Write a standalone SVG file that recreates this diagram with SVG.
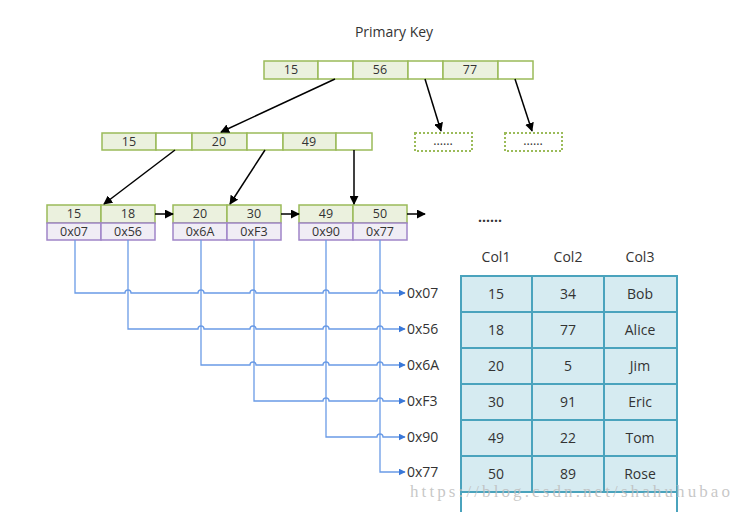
<svg xmlns="http://www.w3.org/2000/svg" width="740" height="512" viewBox="0 0 740 512">
<defs>
<style>
.t{font-family:"Open Sans","Noto Sans",sans-serif;font-size:12.5px;fill:#333;text-anchor:middle}
.h{font-family:"Open Sans","Noto Sans",sans-serif;font-size:14px;fill:#333}
.k{fill:#ebf1de;stroke:#9bbb59;stroke-width:1.5}
.e{fill:#fff;stroke:#9bbb59;stroke-width:1.5}
.a{fill:#f0edf5;stroke:#a085c8;stroke-width:1.5}
.d{fill:#fff;stroke:#9bbb59;stroke-width:2;stroke-dasharray:2 2}
.c{fill:#d6ebf1;stroke:#4aa3bd;stroke-width:2}
.p{fill:none;stroke:#000;stroke-width:1.5}
.b{fill:none;stroke:#6a9be6;stroke-width:1.3}
.tc{font-family:"Open Sans","Noto Sans",sans-serif;font-size:14px;fill:#333;text-anchor:middle}
</style>
<marker id="ah" viewBox="0 0 10 10" refX="9" refY="5" markerWidth="9" markerHeight="9" markerUnits="userSpaceOnUse" orient="auto"><path d="M0,0L10,5L0,10z" fill="#000"/></marker>
<marker id="bh" viewBox="0 0 10 10" refX="9" refY="5" markerWidth="7" markerHeight="7" markerUnits="userSpaceOnUse" orient="auto"><path d="M0,0L10,5L0,10z" fill="#3a78d8"/></marker>
</defs>
<rect width="740" height="512" fill="#fff"/>
<text class="h" x="394" y="37" text-anchor="middle">Primary Key</text>

<g id="root">
<rect class="k" x="264" y="61" width="54" height="18"/><rect class="e" x="318" y="61" width="35" height="18"/>
<rect class="k" x="353" y="61" width="55" height="18"/><rect class="e" x="408" y="61" width="35" height="18"/>
<rect class="k" x="443" y="61" width="55" height="18"/><rect class="e" x="498" y="61" width="35" height="18"/>
<text class="t" x="291" y="74">15</text><text class="t" x="380" y="74">56</text><text class="t" x="470" y="74">77</text>
</g>
<g id="mid">
<rect class="k" x="102" y="133" width="54" height="17"/><rect class="e" x="156" y="133" width="36" height="17"/>
<rect class="k" x="192" y="133" width="55" height="17"/><rect class="e" x="247" y="133" width="36" height="17"/>
<rect class="k" x="283" y="133" width="53" height="17"/><rect class="e" x="336" y="133" width="36" height="17"/>
<text class="t" x="129" y="146">15</text><text class="t" x="219" y="146">20</text><text class="t" x="309" y="146">49</text>
</g>
<g id="dot1"><rect class="d" x="415" y="133" width="57" height="18"/><text class="t" x="443" y="145" font-size="9">......</text></g>
<g id="dot2"><rect class="d" x="505" y="133" width="57" height="18"/><text class="t" x="533" y="145" font-size="9">......</text></g>

<g id="leaf1">
<rect class="k" x="47" y="205" width="54" height="18"/><rect class="k" x="101" y="205" width="54" height="18"/>
<rect class="a" x="47" y="223" width="54" height="17"/><rect class="a" x="101" y="223" width="54" height="17"/>
<text class="t" x="74" y="218">15</text><text class="t" x="128" y="218">18</text>
<text class="t" x="74" y="236">0x07</text><text class="t" x="128" y="236">0x56</text>
</g>
<g id="leaf2">
<rect class="k" x="173" y="205" width="54" height="18"/><rect class="k" x="227" y="205" width="54" height="18"/>
<rect class="a" x="173" y="223" width="54" height="17"/><rect class="a" x="227" y="223" width="54" height="17"/>
<text class="t" x="200" y="218">20</text><text class="t" x="254" y="218">30</text>
<text class="t" x="200" y="236">0x6A</text><text class="t" x="254" y="236">0xF3</text>
</g>
<g id="leaf3">
<rect class="k" x="299" y="205" width="54" height="18"/><rect class="k" x="353" y="205" width="54" height="18"/>
<rect class="a" x="299" y="223" width="54" height="17"/><rect class="a" x="353" y="223" width="54" height="17"/>
<text class="t" x="326" y="218">49</text><text class="t" x="380" y="218">50</text>
<text class="t" x="326" y="236">0x90</text><text class="t" x="380" y="236">0x77</text>
</g>
<text class="h" x="478" y="222" font-weight="bold" font-size="15">......</text>

<g id="connectors">
<line class="p" x1="335" y1="79" x2="221" y2="132" marker-end="url(#ah)"/>
<line class="p" x1="425" y1="79" x2="441" y2="131" marker-end="url(#ah)"/>
<line class="p" x1="515" y1="79" x2="532" y2="131" marker-end="url(#ah)"/>
<line class="p" x1="175" y1="150" x2="104" y2="204" marker-end="url(#ah)"/>
<line class="p" x1="265" y1="150" x2="230" y2="204" marker-end="url(#ah)"/>
<line class="p" x1="354" y1="150" x2="354" y2="204" marker-end="url(#ah)"/>
<line class="p" x1="155" y1="214" x2="173" y2="214" marker-end="url(#ah)"/>
<line class="p" x1="281" y1="214" x2="299" y2="214" marker-end="url(#ah)"/>
<line class="p" x1="407" y1="214" x2="425" y2="214" marker-end="url(#ah)"/>
<g id="blue">
<path class="b" d="M75,240V293H125a3,3 0 0 1 6,0H198a3,3 0 0 1 6,0H250a3,3 0 0 1 6,0H323a3,3 0 0 1 6,0H377a3,3 0 0 1 6,0H405" marker-end="url(#bh)"/>
<path class="b" d="M128,240V329H198a3,3 0 0 1 6,0H250a3,3 0 0 1 6,0H323a3,3 0 0 1 6,0H377a3,3 0 0 1 6,0H405" marker-end="url(#bh)"/>
<path class="b" d="M201,240V365H250a3,3 0 0 1 6,0H323a3,3 0 0 1 6,0H377a3,3 0 0 1 6,0H405" marker-end="url(#bh)"/>
<path class="b" d="M254,240V401H323a3,3 0 0 1 6,0H377a3,3 0 0 1 6,0H405" marker-end="url(#bh)"/>
<path class="b" d="M326,240V437H377a3,3 0 0 1 6,0H405" marker-end="url(#bh)"/>
<path class="b" d="M380,240V472H405" marker-end="url(#bh)"/>
</g>
</g>

<g id="addrs">
<text class="h" x="407" y="298">0x07</text>
<text class="h" x="407" y="334">0x56</text>
<text class="h" x="407" y="370">0x6A</text>
<text class="h" x="407" y="406">0xF3</text>
<text class="h" x="407" y="442">0x90</text>
<text class="h" x="407" y="477">0x77</text>
</g>

<g id="table">
<text class="tc" x="496" y="262">Col1</text><text class="tc" x="568" y="262">Col2</text><text class="tc" x="640" y="262">Col3</text>
<rect x="461" y="492" width="216" height="22" fill="#fff" stroke="#4aa3bd" stroke-width="2"/>
<rect class="c" x="461" y="276" width="71" height="36"/><rect class="c" x="532" y="276" width="72" height="36"/><rect class="c" x="604" y="276" width="73" height="36"/>
<rect class="c" x="461" y="312" width="71" height="36"/><rect class="c" x="532" y="312" width="72" height="36"/><rect class="c" x="604" y="312" width="73" height="36"/>
<rect class="c" x="461" y="348" width="71" height="36"/><rect class="c" x="532" y="348" width="72" height="36"/><rect class="c" x="604" y="348" width="73" height="36"/>
<rect class="c" x="461" y="384" width="71" height="36"/><rect class="c" x="532" y="384" width="72" height="36"/><rect class="c" x="604" y="384" width="73" height="36"/>
<rect class="c" x="461" y="420" width="71" height="36"/><rect class="c" x="532" y="420" width="72" height="36"/><rect class="c" x="604" y="420" width="73" height="36"/>
<rect class="c" x="461" y="456" width="71" height="36"/><rect class="c" x="532" y="456" width="72" height="36"/><rect class="c" x="604" y="456" width="73" height="36"/>
<text class="tc" x="496" y="299">15</text><text class="tc" x="568" y="299">34</text><text class="tc" x="640" y="299">Bob</text>
<text class="tc" x="496" y="335">18</text><text class="tc" x="568" y="335">77</text><text class="tc" x="640" y="335">Alice</text>
<text class="tc" x="496" y="371">20</text><text class="tc" x="568" y="371">5</text><text class="tc" x="640" y="371">Jim</text>
<text class="tc" x="496" y="407">30</text><text class="tc" x="568" y="407">91</text><text class="tc" x="640" y="407">Eric</text>
<text class="tc" x="496" y="443">49</text><text class="tc" x="568" y="443">22</text><text class="tc" x="640" y="443">Tom</text>
<text class="tc" x="496" y="479">50</text><text class="tc" x="568" y="479">89</text><text class="tc" x="640" y="479">Rose</text>
</g>
<text x="410" y="497" font-family="Liberation Serif,serif" font-size="17" fill="#bdbdbd" fill-opacity="0.85" textLength="320" lengthAdjust="spacing">https://blog.csdn.net/shahuhubao</text>
</svg>
